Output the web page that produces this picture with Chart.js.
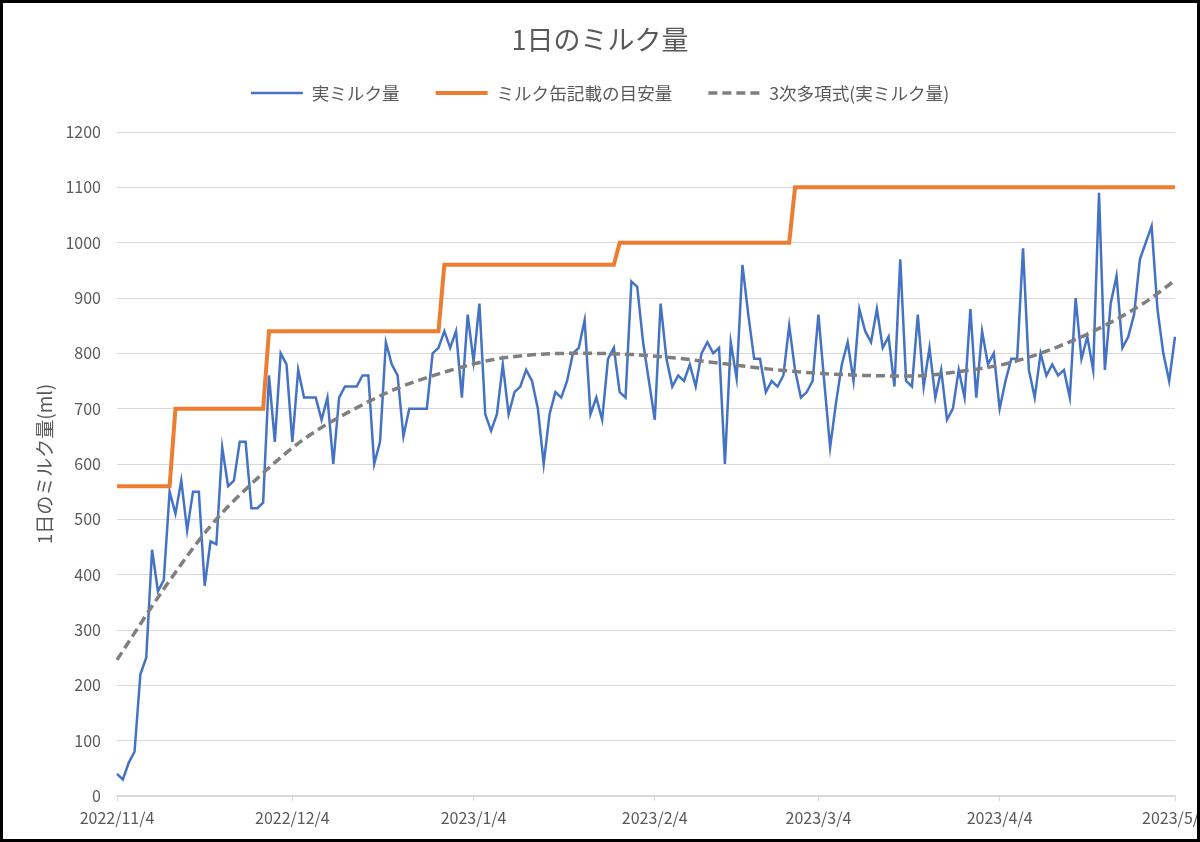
<!DOCTYPE html>
<html>
<head>
<meta charset="utf-8">
<script src="https://cdn.jsdelivr.net/npm/chart.js@4/dist/chart.umd.min.js"></script>
<style>
html,body{margin:0;padding:0;background:#fff;}
#wrap{position:relative;width:1200px;height:842px;overflow:hidden;}
#c{position:absolute;left:0;top:0;}
#frame{position:absolute;left:0;top:0;width:1200px;height:842px;border:3px solid #000;box-sizing:border-box;pointer-events:none;}
</style>
</head>
<body>
<div id="wrap"><canvas id="c" width="1200" height="842"></canvas><div id="frame"></div></div>
<script>
// ---- data ----
const firstDay = '2022/11/4';
const dayCount = 182;
const tickLabels = ['2022/11/4','2022/12/4','2023/1/4','2023/2/4','2023/3/4','2023/4/4','2023/5/4'];

const actualMilk = [
  40, 30, 60, 80, 220, 250, 445, 370, 390, 550,
  510, 570, 480, 550, 550, 380, 460, 455, 630, 560,
  570, 640, 640, 520, 520, 530, 760, 640, 800, 780,
  640, 770, 720, 720, 720, 680, 720, 600, 720, 740,
  740, 740, 760, 760, 600, 640, 820, 780, 760, 650,
  700, 700, 700, 700, 800, 810, 840, 810, 840, 720,
  870, 785, 890, 690, 660, 690, 780, 690, 730, 740,
  770, 750, 700, 600, 690, 730, 720, 750, 800, 810,
  860, 690, 720, 680, 790, 810, 730, 720, 930, 920,
  820, 750, 680, 890, 790, 740, 760, 750, 780, 740,
  800, 820, 800, 810, 600, 820, 755, 960, 870, 790,
  790, 730, 750, 740, 760, 850, 770, 720, 730, 750,
  870, 748, 630, 710, 780, 820, 750, 880, 840, 820,
  880, 810, 830, 740, 970, 750, 740, 870, 740, 810,
  720, 770, 680, 700, 770, 720, 880, 720, 840, 780,
  800, 700, 750, 790, 790, 990, 770, 720, 800, 760,
  780, 760, 770, 720, 900, 790, 830, 770, 1090, 770,
  890, 940, 810, 830, 870, 970, 1000, 1030, 880, 800,
  750, 830
];

const guideMilk = [
  560,560,560,560,560,560,560,560,560,560,
  700,700,700,700,700,700,700,700,700,700,700,700,700,700,700,700,
  840,840,840,840,840,840,840,840,840,840,840,840,840,840,840,840,840,840,840,840,840,840,840,840,840,840,840,840,840,840,
  960,960,960,960,960,960,960,960,960,960,960,960,960,960,960,960,960,960,960,960,960,960,960,960,960,960,960,960,960,960,
  1000,1000,1000,1000,1000,1000,1000,1000,1000,1000,1000,1000,1000,1000,1000,1000,1000,1000,1000,1000,1000,1000,1000,1000,1000,1000,1000,1000,1000,1000,
  1100,1100,1100,1100,1100,1100,1100,1100,1100,1100,1100,1100,1100,1100,1100,1100,1100,1100,1100,1100,1100,1100,
  1100,1100,1100,1100,1100,1100,1100,1100,1100,1100,1100,1100,1100,1100,1100,1100,1100,1100,1100,1100,1100,1100,
  1100,1100,1100,1100,1100,1100,1100,1100,1100,1100,1100,1100,1100,1100,1100,1100,1100,1100,1100,1100,1100,1100
];

// trend line at these days
const trendDays   = [0, 8, 16, 24, 32, 40, 48, 56, 64, 72, 80, 88, 96, 104, 112, 120, 128, 136, 144, 152, 160, 168, 176, 181];
const trendValues = [246, 374, 488, 574, 645, 696, 737, 766, 788, 798, 800, 798, 791, 781, 771, 764, 760, 759, 767, 781, 808, 845, 893, 932];

// ---- build labels / tables ----
const dateLabels = [];
{
  const p = firstDay.split('/').map(Number);
  for (let i = 0; i < dayCount; i++) {
    const d = new Date(p[0], p[1] - 1, p[2] + i);
    dateLabels.push(d.getFullYear() + '/' + (d.getMonth() + 1) + '/' + d.getDate());
  }
}
const trendSeries = new Array(dayCount).fill(null);
trendDays.forEach((d, i) => { trendSeries[d] = trendValues[i]; });

const FONT = "'Noto Sans CJK JP', 'Noto Sans', sans-serif";
const TXT = '#595959';
const TREND_DASH = [9, 5];

new Chart(document.getElementById('c'), {
  type: 'line',
  data: {
    labels: dateLabels,
    datasets: [
      { label: '実ミルク量', data: actualMilk, borderColor: '#4472C4', backgroundColor: '#4472C4',
        borderWidth: 2.5, pointRadius: 0, pointStyle: 'line', tension: 0, order: 2 },
      { label: 'ミルク缶記載の目安量', data: guideMilk, borderColor: '#ED7D31', backgroundColor: '#ED7D31',
        borderWidth: 4, pointRadius: 0, pointStyle: 'line', tension: 0, order: 1 },
      { label: '3次多項式(実ミルク量)', data: trendSeries, borderColor: '#7F7F7F', backgroundColor: '#7F7F7F',
        borderWidth: 3.5, borderDash: TREND_DASH, pointRadius: 0, pointStyle: 'line', spanGaps: true,
        cubicInterpolationMode: 'monotone', order: 0 }
    ]
  },
  options: {
    responsive: false,
    animation: false,
    layout: { padding: { left: 0, right: 0, top: 0, bottom: 0 } },
    plugins: {
      tooltip: { enabled: false },
      title: {
        display: true, text: '1日のミルク量', color: TXT,
        font: { family: FONT, size: 27, weight: 'normal', lineHeight: 1.2 },
        padding: { top: 23.8, bottom: -8 }
      },
      subtitle: {
        display: true, text: '', weight: 500,
        font: { family: FONT, size: 10, lineHeight: 1 },
        padding: { top: 0, bottom: 10.2 }
      },
      legend: {
        display: true, position: 'top',
        labels: {
          usePointStyle: true, pointStyleWidth: 52, boxWidth: 52,
          padding: 36, color: TXT,
          font: { family: FONT, size: 17.6 },
          sort: (a, b) => a.datasetIndex - b.datasetIndex,
          generateLabels: (chart) => {
            const items = Chart.defaults.plugins.legend.labels.generateLabels(chart);
            items.forEach(it => {
              const ds = chart.data.datasets[it.datasetIndex];
              it.lineDash = ds.borderDash || [];
              it.lineWidth = ds.borderWidth;
              it.strokeStyle = ds.borderColor;
            });
            return items;
          }
        }
      }
    },
    scales: {
      x: {
        type: 'category',
        offset: false,
        grid: { display: true, drawOnChartArea: false, drawTicks: true, tickLength: 5, color: '#d9d9d9' },
        border: { display: true, color: '#d9d9d9', width: 1.5 },
        ticks: {
          autoSkip: false, maxRotation: 0, minRotation: 0, padding: 7, color: TXT,
          font: { family: FONT, size: 16 },
          callback: function (v) { return this.getLabelForValue(v); }
        },
        afterBuildTicks: (scale) => {
          scale.ticks = scale.ticks.filter(t => tickLabels.includes(dateLabels[t.value]));
        },
        afterFit: (scale) => { scale.height = 46; scale.paddingLeft = 0; scale.paddingRight = 25; }
      },
      y: {
        min: 0, max: 1200,
        ticks: { stepSize: 100, padding: 16, color: TXT, font: { family: FONT, size: 16 },
          callback: (v) => String(v) },
        grid: { color: '#d9d9d9', lineWidth: 1, drawTicks: false },
        border: { display: false },
        title: {
          display: true, text: '1日のミルク量(ml)', color: TXT,
          font: { family: FONT, size: 19, lineHeight: 1.2 },
          padding: { top: 33, bottom: 0 }
        },
        afterFit: (scale) => { scale.width = 117; }
      }
    }
  }
});
</script>
</body>
</html>
